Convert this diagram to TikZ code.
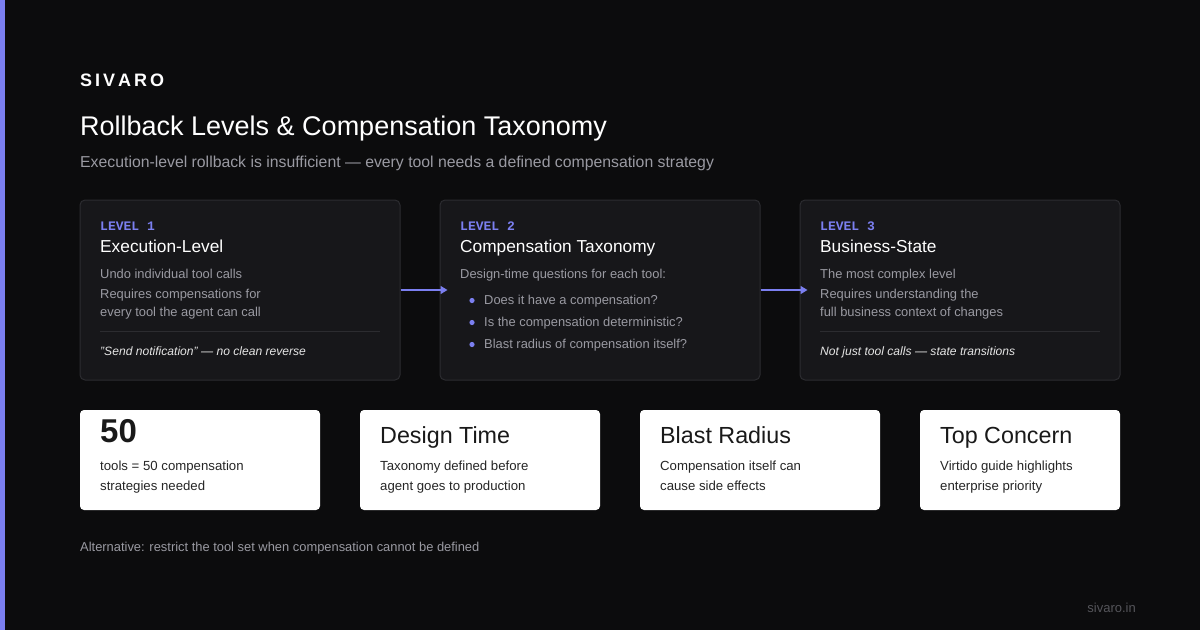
\documentclass[tikz,border=0pt]{standalone}
\usepackage{fontspec}
\setmainfont{Liberation Sans}
\setmonofont{Liberation Mono}
\usetikzlibrary{positioning}
\usetikzlibrary{arrows.meta}
\definecolor{bgdark}{HTML}{0C0C0D}
\definecolor{panel}{HTML}{17171A}
\definecolor{panelline}{HTML}{2C2C30}
\definecolor{accent}{HTML}{7B7FF0}
\definecolor{softgray}{HTML}{9A9AA2}
\definecolor{dimgray}{HTML}{55555A}
\begin{document}
\begin{tikzpicture}[x=1pt,y=-1pt,
	level/.style={rectangle, rounded corners=5pt, fill=panel, draw=panelline, line width=1pt},
	card/.style={rectangle, rounded corners=4pt, fill=white},
	txt/.style={anchor=west, inner sep=0pt, text height=0.72em, text depth=0.2em, yshift=-3pt},
	tag/.style={txt, text=accent, font=\ttfamily\bfseries\fontsize{13}{15}\selectfont},
	head/.style={txt, text=white, font=\fontsize{17.3}{20}\selectfont},
	body/.style={txt, text=softgray, font=\fontsize{12.9}{15}\selectfont},
	note/.style={txt, text=white!90!black, font=\itshape\fontsize{12.1}{14}\selectfont},
	big/.style={txt, text=black!90, font=\fontsize{23.3}{26}\selectfont},
	small/.style={txt, text=black!85, font=\fontsize{13.2}{16}\selectfont},
	flow/.style={draw=accent, line width=1.5pt, -{Triangle[length=7pt,width=8pt]}, shorten >=-8pt},
	]
	% background
	\fill[bgdark] (0,0) rectangle (1200,630);
	\fill[accent] (0,0) rectangle (5,630);
	
	% header
	\node[txt, text=white, font=\bfseries\fontsize{18}{20}\selectfont] (brand) at (80,81) {S\hspace{3pt}I\hspace{3pt}V\hspace{3pt}A\hspace{3pt}R\hspace{3pt}O};
	\node[txt, text=white, font=\fontsize{27}{30}\selectfont] (title) at (80,130) {Rollback Levels \& Compensation Taxonomy};
	\node[txt, text=softgray, font=\fontsize{15.8}{18}\selectfont] (sub) at (80,162) {Execution-level rollback is insufficient — every tool needs a defined compensation strategy};
	
	% level panels
	\node[level, minimum width=320pt, minimum height=180pt] (l1) at (240,290) {};
	\node[level, minimum width=320pt, minimum height=180pt] (l2) at (600,290) {};
	\node[level, minimum width=320pt, minimum height=180pt] (l3) at (960,290) {};
	\draw[flow] (l1.east) -- (l2.west);
	\draw[flow] (l2.east) -- (l3.west);
	
	\node[tag] (t1) at (100,225) {LEVEL 1};
	\node[head] (h1) at (100,247) {Execution-Level};
	\node[body] (b1a) at (100,273) {Undo individual tool calls};
	\node[body] (b1b) at (100,293) {Requires compensations for};
	\node[body] (b1c) at (100,311) {every tool the agent can call};
	\draw[panelline, line width=1pt] (100,331) -- (380,331);
	\node[note] (n1) at (100,350) {"Send notification" — no clean reverse};
	
	\node[tag] (t2) at (460,225) {LEVEL 2};
	\node[head] (h2) at (460,247) {Compensation Taxonomy};
	\node[body] (b2a) at (460,273) {Design-time questions for each tool:};
	\foreach \y/\txt in {299/Does it have a compensation?, 321/Is the compensation deterministic?, 343/Blast radius of compensation itself?}{
		\fill[accent] (472,\y+1.5) circle (2.6pt);
		\node[body] at (484,\y) {\txt};
	}
	
	\node[tag] (t3) at (820,225) {LEVEL 3};
	\node[head] (h3) at (820,247) {Business-State};
	\node[body] (b3a) at (820,273) {The most complex level};
	\node[body] (b3b) at (820,293) {Requires understanding the};
	\node[body] (b3c) at (820,311) {full business context of changes};
	\draw[panelline, line width=1pt] (820,331) -- (1100,331);
	\node[note] (n3) at (820,350) {Not just tool calls — state transitions};
	
	% stat cards
	\node[card, minimum width=240pt, minimum height=100pt] (c1) at (200,460) {};
	\node[card, minimum width=240pt, minimum height=100pt] (c2) at (480,460) {};
	\node[card, minimum width=240pt, minimum height=100pt] (c3) at (760,460) {};
	\node[card, minimum width=200pt, minimum height=100pt] (c4) at (1020,460) {};
	
	\node[big, font=\bfseries\fontsize{33}{36}\selectfont] (s1) at (100,437) {50};
	\node[small] at (100,465) {tools = 50 compensation};
	\node[small] at (100,485) {strategies needed};
	\node[big] (s2) at (380,438) {Design Time};
	\node[small] at (380,465) {Taxonomy defined before};
	\node[small] at (380,485) {agent goes to production};
	\node[big] (s3) at (660,438) {Blast Radius};
	\node[small] at (660,465) {Compensation itself can};
	\node[small] at (660,485) {cause side effects};
	\node[big] (s4) at (940,438) {Top Concern};
	\node[small] at (940,465) {Virtido guide highlights};
	\node[small] at (940,485) {enterprise priority};
	
	% footer
	\node[txt, text=softgray, font=\fontsize{12.9}{14}\selectfont] (alt) at (80,546) {Alternative: restrict the tool set when compensation cannot be defined};
	\node[txt, anchor=east, text=dimgray, font=\fontsize{13}{15}\selectfont] (url) at (1136,607) {sivaro.in};
\end{tikzpicture}
\end{document}
